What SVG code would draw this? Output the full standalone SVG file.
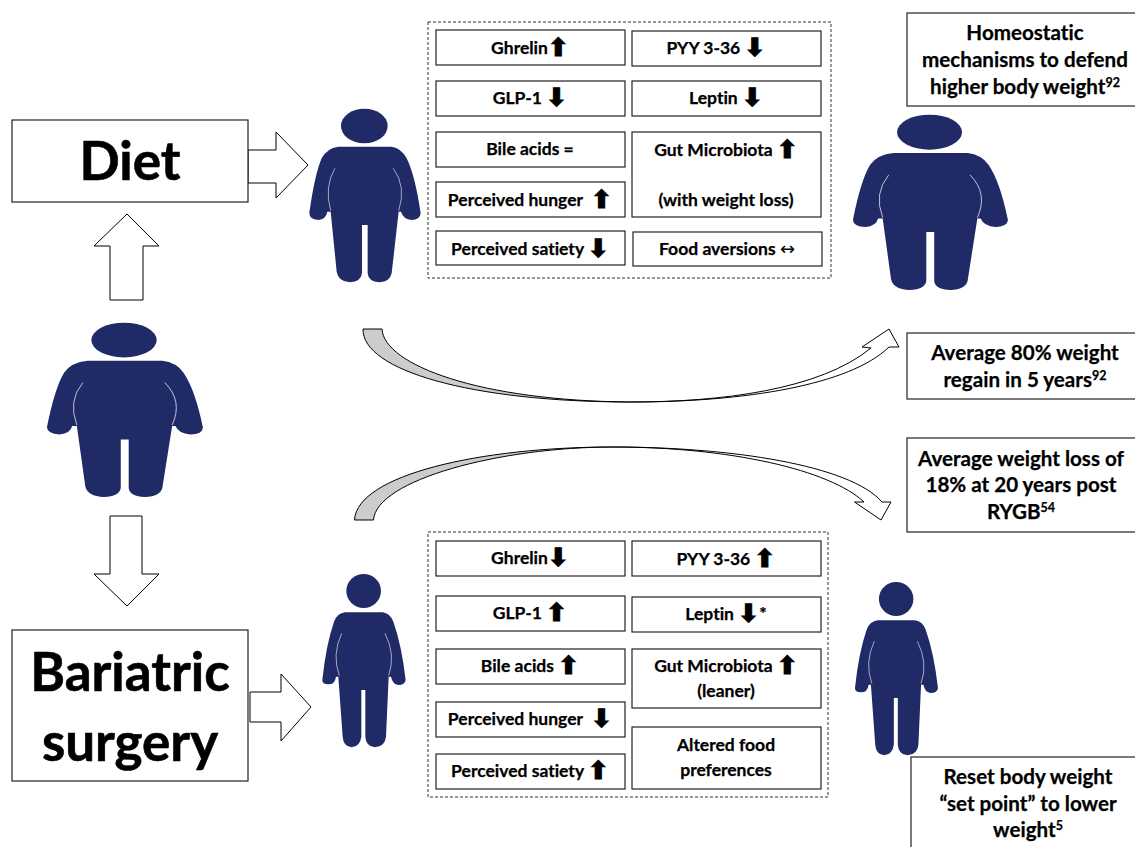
<svg xmlns="http://www.w3.org/2000/svg" width="1135" height="847" viewBox="0 0 1135 847">
<style>
text{font-family:"Lato","Open Sans","Liberation Sans",sans-serif;font-weight:700;fill:#000;text-anchor:middle;stroke:#000;stroke-width:.25;font-variant-ligatures:none;white-space:pre}
.s{font-size:17.500px}.m{font-size:20.600px}.l{font-size:53px;stroke-width:.6}
.a{font-family:"DejaVu Sans",sans-serif;font-weight:700;font-size:25px;stroke-width:1}
.t{font-family:"DejaVu Sans",sans-serif;font-weight:400;font-size:18px;stroke-width:0}
.u{font-size:12.500px}
.b{fill:#fff;stroke:#000;stroke-width:1}
.d{fill:none;stroke:#333;stroke-width:1;stroke-dasharray:3 2}
.bx{fill:#fff;stroke:#222;stroke-width:1.2}
.fig{fill:#1f2a66}
.gap{fill:none;stroke:#e8e8f0;stroke-width:2}
.gy{fill:#ccc;stroke:#000;stroke-width:1}
</style>
<defs>
<g id="big"><ellipse class="fig" cx="193" cy="108" rx="70" ry="52"/><path class="fig" d="M115 170L275 170Q305 175 320 205Q345 255 362 370Q360 390 335 390Q310 388 303 365L296 365L275 550Q270 575 238 577Q205 575 203 550L203 405L186 405L186 550Q183 575 150 577Q115 575 110 545L92 365L82 365Q78 388 55 390Q28 388 28 368Q45 250 65 205Q80 175 115 170Z"/><path class="gap" d="M105 235Q72 290 92 362M280 235Q320 290 296 362"/></g>
<g id="slim"><ellipse class="fig" cx="161" cy="78" rx="52" ry="51"/><path class="fig" d="M105 142L218 142Q240 145 250 170Q275 240 287 345Q285 360 265 360Q248 358 243 335L236 335L228 515Q225 545 195 547Q168 545 166 515L166 375L154 375L154 515Q150 545 125 547Q100 545 98 515L85 335L78 335Q75 358 55 358Q37 358 37 345Q48 240 72 170Q82 145 105 142Z"/><path class="gap" d="M95 205Q65 270 88 332M225 205Q258 270 236 332"/></g>
</defs>

<g id="connectors">
<path class="b" d="M110 300V246H94L127 214L159 246H143V300Z"/>
<path class="b" d="M110 516V574H94L127 606L159 574H142V516Z"/>
<path class="b" d="M248 150H276V132L308 165L276 198V183H248Z"/>
<path class="b" d="M250 692H281V674L311 707L281 741V722H250Z"/>
<path class="gy" d="M363 329L382 329C384 365 480 401 631 402C470 402 362 370 363 329Z"/>
<path class="b" d="M631 402C720 402 820 390 871 348L862 347L889 329L899 347L889 347C850 385 745 402 631 402Z"/>
<path class="gy" d="M354.500 520L373.500 520C376 480 500 447 613 447C480 447 357 475 354.500 520Z"/>
<path class="b" d="M613 447C730 447 830 470 864 502L854.500 502L881 520L891 502L882 502C850 465 730 447 613 447Z"/>
</g>

<g id="node-diet"><rect class="bx" x="12" y="120" width="236" height="82"/><text class="l" x="130" y="180">Diet</text></g>
<g id="node-bariatric"><rect class="bx" x="12" y="630" width="236" height="151"/><text class="l" x="130" y="691">Bariatric</text><text class="l" x="130" y="761">surgery</text></g>

<g id="person-start"><use href="#big" transform="translate(33.900 303.900) scale(.467 .3346)"/></g>
<g id="person-diet"><use href="#big" transform="translate(300 90) scale(.3333)"/></g>
<g id="person-regain"><use href="#big" transform="translate(840 95.800) scale(.464 .3365)"/></g>
<g id="person-surgery"><use href="#slim" transform="translate(310 565) scale(.3333)"/></g>
<g id="person-reset"><use href="#slim" transform="translate(842.700 573) scale(.332 .3333)"/></g>

<g id="panel-diet">
<rect class="d" x="428" y="22" width="403" height="256"/>
<g id="d1"><rect class="bx" x="436" y="30" width="189" height="35"/><text class="s" x="530" y="54">Ghrelin<tspan class="a" dy="2">⬆</tspan></text></g>
<g id="d2"><rect class="bx" x="632" y="31" width="189" height="35"/><text class="s" x="716" y="54">PYY 3-36 <tspan class="a" dy="2">⬇</tspan></text></g>
<g id="d3"><rect class="bx" x="436" y="81" width="189" height="35"/><text class="s" x="530" y="104">GLP-1 <tspan class="a" dy="2">⬇</tspan></text></g>
<g id="d4"><rect class="bx" x="632" y="81" width="189" height="35"/><text class="s" x="726" y="104">Leptin <tspan class="a" dy="2">⬇</tspan></text></g>
<g id="d5"><rect class="bx" x="436" y="132" width="189" height="35"/><text class="s" x="530" y="155">Bile acids =</text></g>
<g id="d6"><rect class="bx" x="632" y="132" width="189" height="85"/><text class="s" x="726" y="156">Gut Microbiota <tspan class="a" dy="2">⬆</tspan></text><text class="s" x="726" y="206">(with weight loss)</text></g>
<g id="d7"><rect class="bx" x="436" y="182" width="189" height="35"/><text class="s" x="530" y="206">Perceived hunger  <tspan class="a" dy="2">⬆</tspan></text></g>
<g id="d8"><rect class="bx" x="436" y="231" width="189" height="34"/><text class="s" x="530" y="255">Perceived satiety <tspan class="a" dy="2">⬇</tspan></text></g>
<g id="d9"><rect class="bx" x="633" y="232" width="189" height="34"/><text class="s" x="727" y="255">Food aversions <tspan class="t">↔</tspan></text></g>
</g>

<g id="panel-surgery">
<rect class="d" x="428" y="532" width="400" height="265"/>
<g id="s1"><rect class="bx" x="436" y="541" width="189" height="35"/><text class="s" x="530" y="564">Ghrelin<tspan class="a" dy="2">⬇</tspan></text></g>
<g id="s2"><rect class="bx" x="632" y="541" width="189" height="35"/><text class="s" x="726" y="565">PYY 3-36 <tspan class="a" dy="2">⬆</tspan></text></g>
<g id="s3"><rect class="bx" x="436" y="596" width="189" height="35"/><text class="s" x="530" y="619">GLP-1 <tspan class="a" dy="2">⬆</tspan></text></g>
<g id="s4"><rect class="bx" x="632" y="597" width="189" height="35"/><text class="s" x="726" y="620">Leptin <tspan class="a" dy="2">⬇</tspan><tspan dy="-2">*</tspan></text></g>
<g id="s5"><rect class="bx" x="436" y="649" width="189" height="35"/><text class="s" x="530" y="672">Bile acids <tspan class="a" dy="2">⬆</tspan></text></g>
<g id="s6"><rect class="bx" x="632" y="649" width="189" height="59"/><text class="s" x="726" y="672">Gut Microbiota <tspan class="a" dy="2">⬆</tspan></text><text class="s" x="726" y="697">(leaner)</text></g>
<g id="s7"><rect class="bx" x="436" y="702" width="189" height="35"/><text class="s" x="530" y="725">Perceived hunger  <tspan class="a" dy="2">⬇</tspan></text></g>
<g id="s8"><rect class="bx" x="632" y="727" width="189" height="62"/><text class="s" x="726" y="751">Altered food</text><text class="s" x="726" y="776">preferences</text></g>
<g id="s9"><rect class="bx" x="436" y="754" width="189" height="35"/><text class="s" x="530" y="777">Perceived satiety <tspan class="a" dy="2">⬆</tspan></text></g>
</g>

<g id="note-homeostatic"><rect class="bx" x="907" y="13" width="232" height="93"/><text class="m" x="1025" y="40">Homeostatic</text><text class="m" x="1025" y="67">mechanisms to defend</text><text class="m" x="1025" y="94">higher body weight<tspan class="u" dy="-7">92</tspan></text></g>
<g id="note-regain"><rect class="bx" x="907" y="333" width="232" height="66"/><text class="m" x="1025" y="360">Average 80% weight</text><text class="m" x="1025" y="387">regain in 5 years<tspan class="u" dy="-7">92</tspan></text></g>
<g id="note-loss"><rect class="bx" x="907" y="438" width="232" height="94"/><text class="m" x="1021" y="466">Average weight loss of</text><text class="m" x="1021" y="492">18% at 20 years post</text><text class="m" x="1021" y="519">RYGB<tspan class="u" dy="-7">54</tspan></text></g>
<g id="note-reset"><rect class="bx" x="911" y="757" width="228" height="95"/><text class="m" x="1028" y="784">Reset body weight</text><text class="m" x="1028" y="811">“set point” to lower</text><text class="m" x="1028" y="837">weight<tspan class="u" dy="-7">5</tspan></text></g>
</svg>
